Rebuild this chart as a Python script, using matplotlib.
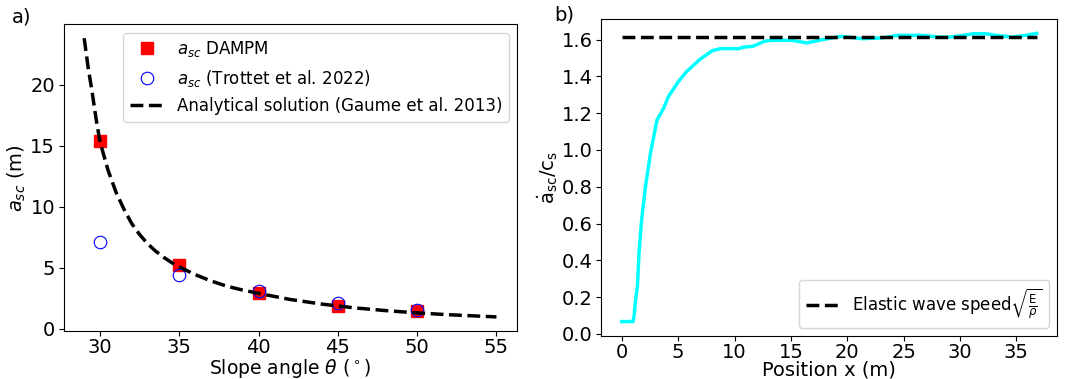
import numpy as np
import matplotlib
matplotlib.use("Agg")
import matplotlib.pyplot as plt

# ---- panel a) data ----
slope_angles = [30, 35, 40, 45, 50]
asc_dampm = [15.4, 5.2, 2.95, 1.85, 1.45]
asc_trottet = [7.1, 4.4, 3.05, 2.1, 1.55]

theta_analytical = [29, 29.25, 29.5, 29.75, 30, 30.5, 31, 31.5, 32, 32.5, 33, 33.5, 34, 34.5,
                    35, 36, 37, 38, 39, 40, 42, 44, 46, 48, 50, 52, 55]
asc_analytical = [23.8, 21.4, 19.4, 17.2, 15.3, 13.0, 11.2, 9.8, 8.6, 7.7, 6.95, 6.35, 5.85,
                  5.42, 5.05, 4.42, 3.9, 3.47, 3.15, 2.88, 2.38, 2.0, 1.7, 1.47, 1.28, 1.13,
                  0.95]

# ---- panel b) data ----
position_x = [0.0, 1.0, 1.1, 1.2, 1.39, 1.53, 1.76, 2.1, 2.54, 3.12, 3.7, 4.13, 5.0, 5.72,
              6.88, 8.03, 8.76, 10.35, 10.92, 11.65, 12.66, 13.24, 14.4, 15.1, 16.4, 17.8,
              19.5, 21.3, 23.0, 24.5, 26.8, 28.0, 29.1, 30.3, 31.2, 32.3, 33.2, 34.6, 35.8, 36.8]
speed_ratio = [0.067, 0.067, 0.1, 0.17, 0.257, 0.438, 0.619, 0.80, 0.98, 1.162, 1.225, 1.289,
               1.37, 1.424, 1.49, 1.54, 1.551, 1.551, 1.56, 1.564, 1.591, 1.596, 1.596, 1.596,
               1.582, 1.6, 1.618, 1.605, 1.609, 1.623, 1.623, 1.614, 1.614, 1.623, 1.632,
               1.632, 1.623, 1.614, 1.623, 1.634]
elastic_speed = 1.615

fs = 14
plt.rcParams['font.size'] = fs
plt.rcParams['xtick.major.pad'] = 1.5
plt.rcParams['ytick.major.pad'] = 2.5

fig = plt.figure(figsize=(10.79, 3.79), dpi=100)

# panel a
ax1 = fig.add_axes([0.0589, 0.127, 0.4203, 0.809])
ax1.plot(slope_angles, asc_dampm, 's', color='red', markersize=9, label=r'$a_{sc}$ DAMPM')
ax1.plot(slope_angles, asc_trottet, 'o', markerfacecolor='none', markeredgecolor='blue',
         markeredgewidth=0.8, markersize=9, label=r'$a_{sc}$ (Trottet et al. 2022)')
ax1.plot(theta_analytical, asc_analytical, '--', color='black', linewidth=2.5,
         label='Analytical solution (Gaume et al. 2013)')
ax1.set_xlabel(r'Slope angle $\theta$ ($^\circ$)', fontsize=13.5, labelpad=0)
ax1.set_ylabel(r'$a_{sc}$ (m)', labelpad=2)
ax1.set_xticks([30, 35, 40, 45, 50, 55])
ax1.set_yticks([0, 5, 10, 15, 20])
ax1.legend(loc='upper right', fontsize=12)
fig.text(0.011, 0.94, 'a)', fontsize=14)

# panel b
ax2 = fig.add_axes([0.557, 0.1135, 0.423, 0.8365])
ax2.plot(position_x, speed_ratio, color='cyan', linewidth=2.5)
ax2.plot([position_x[0], position_x[-1]], [elastic_speed, elastic_speed], '--', color='black',
         linewidth=2.5, label=r'Elastic wave speed$\sqrt{\frac{\mathrm{E}}{\rho}}$')
ax2.set_xlabel('Position x (m)', labelpad=-1)
ax2.set_ylabel(r'$\mathrm{\dot{a}_{sc}/c_s}$', labelpad=1)
ax2.set_xticks([0, 5, 10, 15, 20, 25, 30, 35])
ax2.set_yticks([0.0, 0.2, 0.4, 0.6, 0.8, 1.0, 1.2, 1.4, 1.6])
ax2.legend(loc='lower right', fontsize=12)
fig.text(0.514, 0.945, 'b)', fontsize=14)

fig.savefig('out.png', dpi=100)
